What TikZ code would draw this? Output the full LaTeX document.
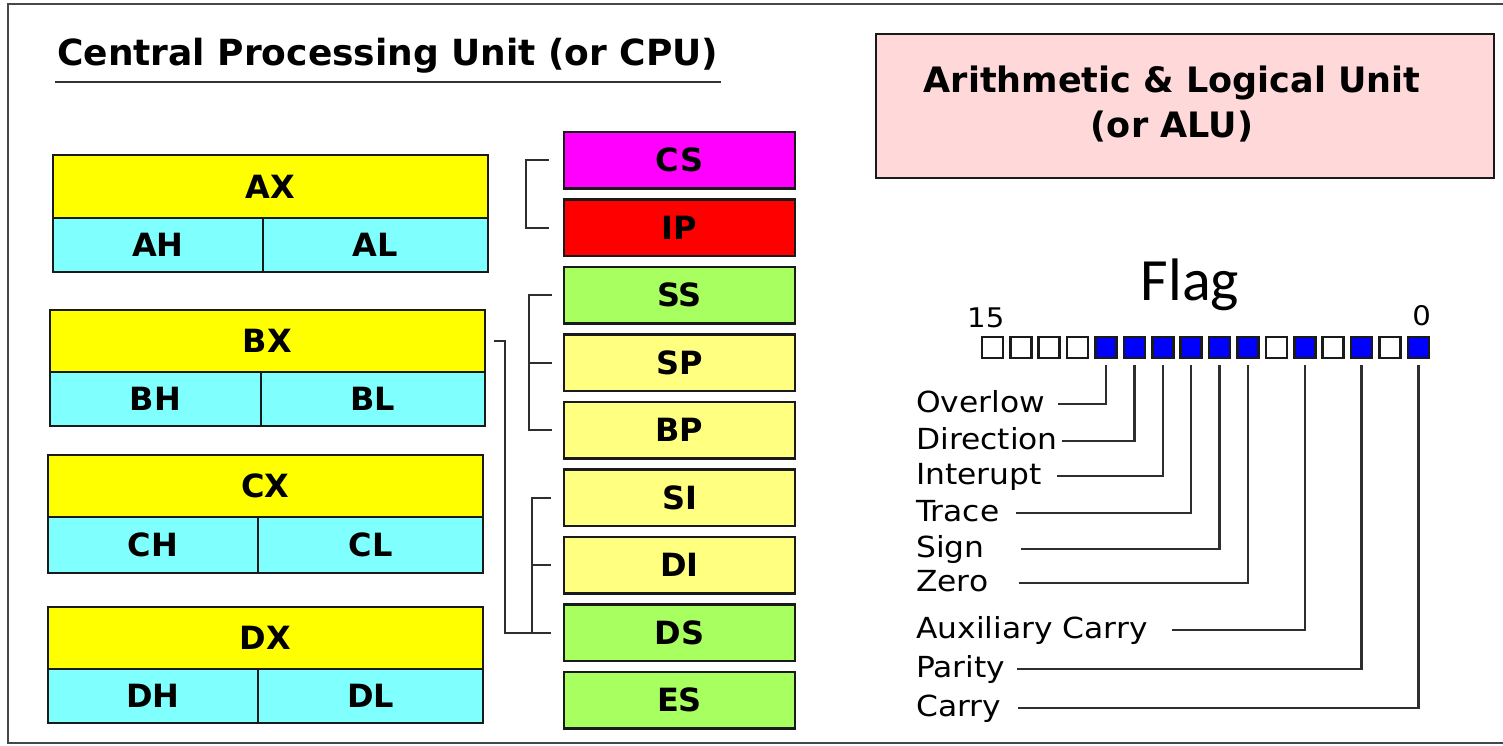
\documentclass[tikz,border=0pt]{standalone}
\usepackage{fontspec}
\setmainfont{DejaVu Sans}
\newfontfamily\flagfont{Carlito}
\newfontfamily\bitlabelfont[FakeStretch=1.08]{DejaVu Sans}
\usetikzlibrary{calc}

\definecolor{regyellow}{HTML}{FFFF00}
\definecolor{regcyan}{HTML}{80FFFF}
\definecolor{regmagenta}{HTML}{FF00FF}
\definecolor{regred}{HTML}{FF0000}
\definecolor{reggreen}{HTML}{A8FF60}
\definecolor{regpale}{HTML}{FFFF80}
\definecolor{alupink}{HTML}{FFD9D9}
\definecolor{flagblue}{HTML}{0000FF}
\definecolor{edge}{HTML}{1A1A1A}
\definecolor{wire}{HTML}{2E2E2E}

% box given by its corners: style, name, x1, y1, x2, y2, text
\newcommand{\regbox}[7]{%
  \pgfmathsetmacro{\rbw}{#5-#3}\pgfmathsetmacro{\rbh}{#6-#4}%
  \pgfmathsetmacro{\rbx}{(#3+#5)/2}\pgfmathsetmacro{\rby}{(#4+#6)/2}%
  \node[#1, minimum width=\rbw pt, minimum height=\rbh pt] (#2) at (\rbx,\rby) {#7};}

\tikzset{
  frame/.style={draw=black!72, line width=2.4pt},
  rule/.style={draw=black!80, line width=2.4pt},
  reg/.style={draw=edge, line width=2.5pt, inner sep=0pt,
    font=\fontsize{32}{36}\selectfont\bfseries, text height=23.3pt, text depth=0pt},
  wide/.style={reg, fill=regyellow},
  half/.style={reg, fill=regcyan},
  conn/.style={draw=wire, line width=2.4pt},
  title/.style={inner sep=0pt, anchor=base west,
    font=\fontsize{36}{40}\selectfont\bfseries},
  alubox/.style={draw=edge, line width=2.5pt, fill=alupink, inner sep=0pt},
  alutext/.style={inner sep=0pt, align=center,
    font=\fontsize{35}{45}\selectfont\bfseries},
  bit/.style={draw=edge, line width=2.6pt, inner sep=0pt,
    minimum width=21pt, minimum height=21pt},
  bitnum/.style={inner sep=0pt, font=\bitlabelfont\fontsize{27}{30}\selectfont},
  flaglbl/.style={inner sep=0pt, anchor=west, text height=21pt, text depth=4pt,
    font=\bitlabelfont\fontsize{29}{32}\selectfont},
}

\begin{document}
\begin{tikzpicture}[x=1pt, y=-1pt]
\useasboundingbox (0,0) rectangle (1503,745);
\fill[white] (0,0) rectangle (1503,745);

% outer frame, open on the right
\draw[frame] (1503,4) -- (8,4) -- (8,743) -- (1503,743);

% heading
\node[title] (cpu) at (57,65) {Central Processing Unit (or CPU)};
\draw[rule] ([xshift=-2pt,yshift=-17pt]cpu.base west) -- ([xshift=2pt,yshift=-17pt]cpu.base east);

% general purpose registers
\regbox{wide}{AX}{53}{155}{488}{218}{AX}
\regbox{half}{AH}{53}{218}{263}{272}{AH}
\regbox{half}{AL}{263}{218}{488}{272}{AL}

\regbox{wide}{BX}{50}{310}{485}{372}{BX}
\regbox{half}{BH}{50}{372}{261}{426}{BH}
\regbox{half}{BL}{261}{372}{485}{426}{BL}

\regbox{wide}{CX}{48}{455}{483}{517}{CX}
\regbox{half}{CH}{48}{517}{258}{573}{CH}
\regbox{half}{CL}{258}{517}{483}{573}{CL}

\regbox{wide}{DX}{48}{607}{483}{669}{DX}
\regbox{half}{DH}{48}{669}{258}{723}{DH}
\regbox{half}{DL}{258}{669}{483}{723}{DL}

% segment, pointer and index registers
\regbox{reg, fill=regmagenta}{CS}{564}{132}{795}{188.5}{CS}
\regbox{reg, fill=regred}{IP}{564}{199.5}{795}{256}{IP}
\regbox{reg, fill=reggreen}{SS}{564}{267}{795}{323.5}{SS}
\regbox{reg, fill=regpale}{SP}{564}{334.5}{795}{391}{SP}
\regbox{reg, fill=regpale}{BP}{564}{402}{795}{458.5}{BP}
\regbox{reg, fill=regpale}{SI}{564}{469.5}{795}{526}{SI}
\regbox{reg, fill=regpale}{DI}{564}{537}{795}{593.5}{DI}
\regbox{reg, fill=reggreen}{DS}{564}{604.5}{795}{661}{DS}
\regbox{reg, fill=reggreen}{ES}{564}{672}{795}{728.5}{ES}

% register pairings
\draw[conn] ([xshift=-14pt]CS.west) -- ++(-23,0) |- ([xshift=-14pt]IP.west);
\draw[conn] ([xshift=-11pt]SS.west) -- ++(-23,0) |- ([xshift=-11pt]BP.west);
\draw[conn] ([xshift=-11pt]SP.west) -- ++(-23,0);
\draw[conn] ([xshift=-12pt]SI.west) -- ++(-19,0) |- ([xshift=-12pt]DS.west);
\draw[conn] ([xshift=-12pt]DI.west) -- ++(-19,0);
\draw[conn] ([xshift=8pt]BX.east) -- ++(11,0) |- ([xshift=-12pt]DS.west);

% arithmetic and logic unit
\regbox{alubox}{alu}{876}{34}{1494}{178}{}
\node[alutext] (alulbl) at (1172,104) {Arithmetic \& Logical Unit\\(or ALU)};

% flag register
\node[inner sep=0pt, anchor=base, font=\flagfont\fontsize{60}{64}\selectfont] (flag) at (1190,300) {Flag};
\foreach \n/\f in {15/white,14/white,13/white,12/white,11/flagblue,10/flagblue,
                   9/flagblue,8/flagblue,7/flagblue,6/flagblue,5/white,4/flagblue,
                   3/white,2/flagblue,1/white,0/flagblue}{
  \node[bit, fill=\f] (b\n) at ({992.35+(15-\n)*28.4}, 347.3) {};
}
\node[bitnum, anchor=base west] (msb) at (967,327) {15};
\node[bitnum, anchor=base east] (lsb) at (1431,325) {0};

% flag names
\node[flaglbl] (OF) at (916,404) {Overlow};
\node[flaglbl] (DF) at (916,441) {Direction};
\node[flaglbl] (IF) at (916,476) {Interupt};
\node[flaglbl] (TF) at (916,513) {Trace};
\node[flaglbl] (SF) at (916,549) {Sign};
\node[flaglbl] (ZF) at (916,583) {Zero};
\node[flaglbl] (AF) at (916,630) {Auxiliary Carry};
\node[flaglbl] (PF) at (916,669) {Parity};
\node[flaglbl] (CF) at (916,708) {Carry};

\draw[conn] ([yshift=-6pt]b11.south) |- ([xshift=13pt]OF.east);
\draw[conn] ([yshift=-6pt]b10.south) |- ([xshift=4pt]DF.east);
\draw[conn] ([yshift=-6pt]b9.south)  |- ([xshift=15pt]IF.east);
\draw[conn] ([yshift=-6pt]b8.south)  |- ([xshift=16pt]TF.east);
\draw[conn] ([yshift=-6pt]b7.south)  |- ([xshift=36pt]SF.east);
\draw[conn] ([yshift=-6pt]b6.south)  |- ([xshift=31pt]ZF.east);
\draw[conn] ([yshift=-6pt]b4.south)  |- ([xshift=24pt]AF.east);
\draw[conn] ([yshift=-6pt]b2.south)  |- ([xshift=12pt]PF.east);
\draw[conn] ([yshift=-6pt]b0.south)  |- ([xshift=17pt]CF.east);
\end{tikzpicture}
\end{document}
